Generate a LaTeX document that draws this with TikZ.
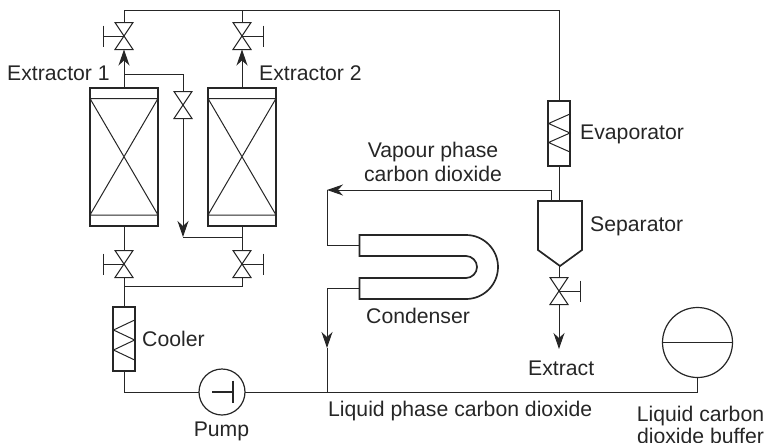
\documentclass[tikz,border=0pt]{standalone}
\usepackage{fontspec}
\setmainfont{Liberation Sans}
\usetikzlibrary{arrows.meta,calc}
\definecolor{ink}{gray}{0.15}
\tikzset{
  x=1pt,y=-1pt,
  pipe/.style={draw=ink,line width=1pt},
  thickline/.style={draw=ink,line width=1.7pt},
  flow/.style={pipe,-{Stealth[length=16pt,width=11pt,inset=5pt]}},
  vessel/.style={draw=ink,line width=1.7pt,inner sep=0pt,outer sep=0pt,rectangle},
  valvebox/.style={inner sep=0pt,outer sep=0pt,minimum width=18pt,minimum height=27pt,rectangle},
  lab/.style={text=ink,font=\fontsize{21.2}{24}\selectfont,inner sep=0pt,align=center},
  round/.style={circle,draw=ink,line width=1.2pt,inner sep=0pt,outer sep=0pt}
}
% name, x, y
\newcommand{\valvesym}[3]{%
  \node[valvebox] (#1) at (#2,#3) {};
  \draw[pipe,line join=miter] (#1.north west)--(#1.south east)--(#1.south west)--(#1.north east)--cycle;
}
% name, direction (+1 right, -1 left)
\newcommand{\valvehandle}[2]{%
  \coordinate (#1h) at ($(#1.center)+(#2*21,0)$);
  \draw[pipe] (#1.center)--(#1h);
  \draw[pipe] ($(#1h)+(0,-10.5)$)--($(#1h)+(0,10.5)$);
}
% name, x, y, width, height
\newcommand{\extractorsym}[5]{%
  \node[vessel,minimum width=#4pt,minimum height=#5pt] (#1) at (#2,#3) {};
  \coordinate (#1tl) at ($(#1.north west)+(0,10.5)$);
  \coordinate (#1tr) at ($(#1.north east)+(0,10.5)$);
  \coordinate (#1bl) at ($(#1.south west)+(0,-11)$);
  \coordinate (#1br) at ($(#1.south east)+(0,-11)$);
  \draw[pipe] (#1tl)--(#1tr) (#1bl)--(#1br) (#1tl)--(#1br) (#1tr)--(#1bl);
}
\begin{document}
\begin{tikzpicture}
\useasboundingbox (0,0) rectangle (766,442);
% valves
\valvesym{va}{124}{36}\valvehandle{va}{-1}
\valvesym{vb}{242}{36}\valvehandle{vb}{1}
\valvesym{vc}{183}{105}
\valvesym{vd}{124}{264}\valvehandle{vd}{-1}
\valvesym{ve}{242}{264}\valvehandle{ve}{1}
\valvesym{vf}{559}{291}\valvehandle{vf}{1}
% extractors
\extractorsym{exa}{124}{157}{68}{138}
\extractorsym{exb}{242}{157}{68}{138}
% cooler
\node[vessel,minimum width=21.5pt,minimum height=64.5pt] (cool) at (124,339) {};
\draw[pipe] (134.7,320)--(113.5,330)--(134.7,340)--(113.5,350)--(134.7,360);
% evaporator
\node[vessel,minimum width=22pt,minimum height=65pt] (evap) at (559,133.5) {};
\draw[pipe] (570,114)--(548.5,123.5)--(570,133)--(548.5,142.5)--(570,152);
% separator
\node[inner sep=0pt,outer sep=0pt,minimum width=44pt,minimum height=65pt] (sep) at (560,233.5) {};
\draw[thickline,line join=miter] (538,201)--(582,201)--(582,250)--(560,266)--(538,250)--cycle;
% condenser
\coordinate (condin) at (359.5,245.5);
\coordinate (condout) at (359.5,288);
\draw[thickline,line join=miter] (359.5,256)--(359.5,235)--(466,235)
  .. controls (483.7,235) and (498,249.3) .. (498,267)
  .. controls (498,284.7) and (483.7,299) .. (466,299)
  --(359.5,299)--(359.5,278)--(466,278)
  .. controls (472,278) and (477,273) .. (477,267)
  .. controls (477,261) and (472,256) .. (466,256)--cycle;
% pump
\node[round,minimum size=46pt] (pump) at (222,392) {};
\draw[ink,line width=1.9pt] (212,392)--(233,392) (233,380.5)--(233,402.5);
% buffer
\node[round,minimum size=70pt] (buf) at (697.5,342.5) {};
\draw[pipe] (buf.west)--(buf.east);
% junctions
\coordinate (top) at (124,10);
\coordinate (topr) at (559,10);
\coordinate (brj) at (124,74);
\coordinate (brc) at (183,74);
\coordinate (lowa) at (183,237);
\coordinate (lowb) at (242,237);
\coordinate (manl) at (124,286);
\coordinate (manr) at (242,286);
\coordinate (pc) at (124,392);
\coordinate (bc) at (697.5,392);
\coordinate (jn) at (327,392);
\coordinate (vapA) at (551,190);
\coordinate (vapB) at (327,190);
\coordinate (vapC) at (327,245.5);
\coordinate (condB) at (327,288);
\coordinate (condT) at (327,348);
\coordinate (ext) at (559,349);
% pipes
\draw[pipe] (va.north)--(top)--(topr)--(evap.north);
\draw[pipe] (vb.north)--(vb.north|-top);
\draw[flow] (exa.north)--(va.south);
\draw[flow] (exb.north)--(vb.south);
\draw[pipe] (brj)--(brc)--(vc.north);
\draw[flow] (vc.south)--(lowa);
\draw[pipe] (lowa)--(lowb);
\draw[pipe] (exb.south)--(ve.north);
\draw[pipe] (exa.south)--(vd.north);
\draw[pipe] (vd.south)--(cool.north);
\draw[pipe] (ve.south)--(manr)--(manl);
\draw[pipe] (cool.south)--(pc)--(pump.west);
\draw[pipe] (pump.east)--(bc)--(buf.south);
\draw[pipe] (evap.south)--(559,201);
\draw[pipe] (559,266)--(vf.north);
\draw[flow] (vf.south)--(ext);
\draw[flow] (vapA|-sep.north)--(vapA)--(vapB);
\draw[pipe] (vapB)--(vapC)--(condin);
\draw[flow] (condout)--(condB)--(condT);
\draw[pipe] (condT)--(jn);
% labels
\node[lab,anchor=west] (la) at (7,73) {Extractor 1};
\node[lab,anchor=west] (lb) at (259,73) {Extractor 2};
\node[lab,anchor=west] (lc) at (580,134) {Evaporator};
\node[lab] (ld) at (433,162) {Vapour phase\\carbon dioxide};
\node[lab,anchor=west] (le) at (590,226) {Separator};
\node[lab,anchor=west] (lf) at (366,316) {Condenser};
\node[lab,anchor=west] (lg) at (142,339) {Cooler};
\node[lab,anchor=west] (lh) at (528,368) {Extract};
\node[lab] (li) at (221.5,431) {Pump};
\node[lab,anchor=west] (lj) at (328,411) {Liquid phase carbon dioxide};
\node[lab,font=\fontsize{21.2}{22}\selectfont] (lk) at (700.5,424.5) {Liquid carbon\\dioxide buffer};
\end{tikzpicture}
\end{document}
